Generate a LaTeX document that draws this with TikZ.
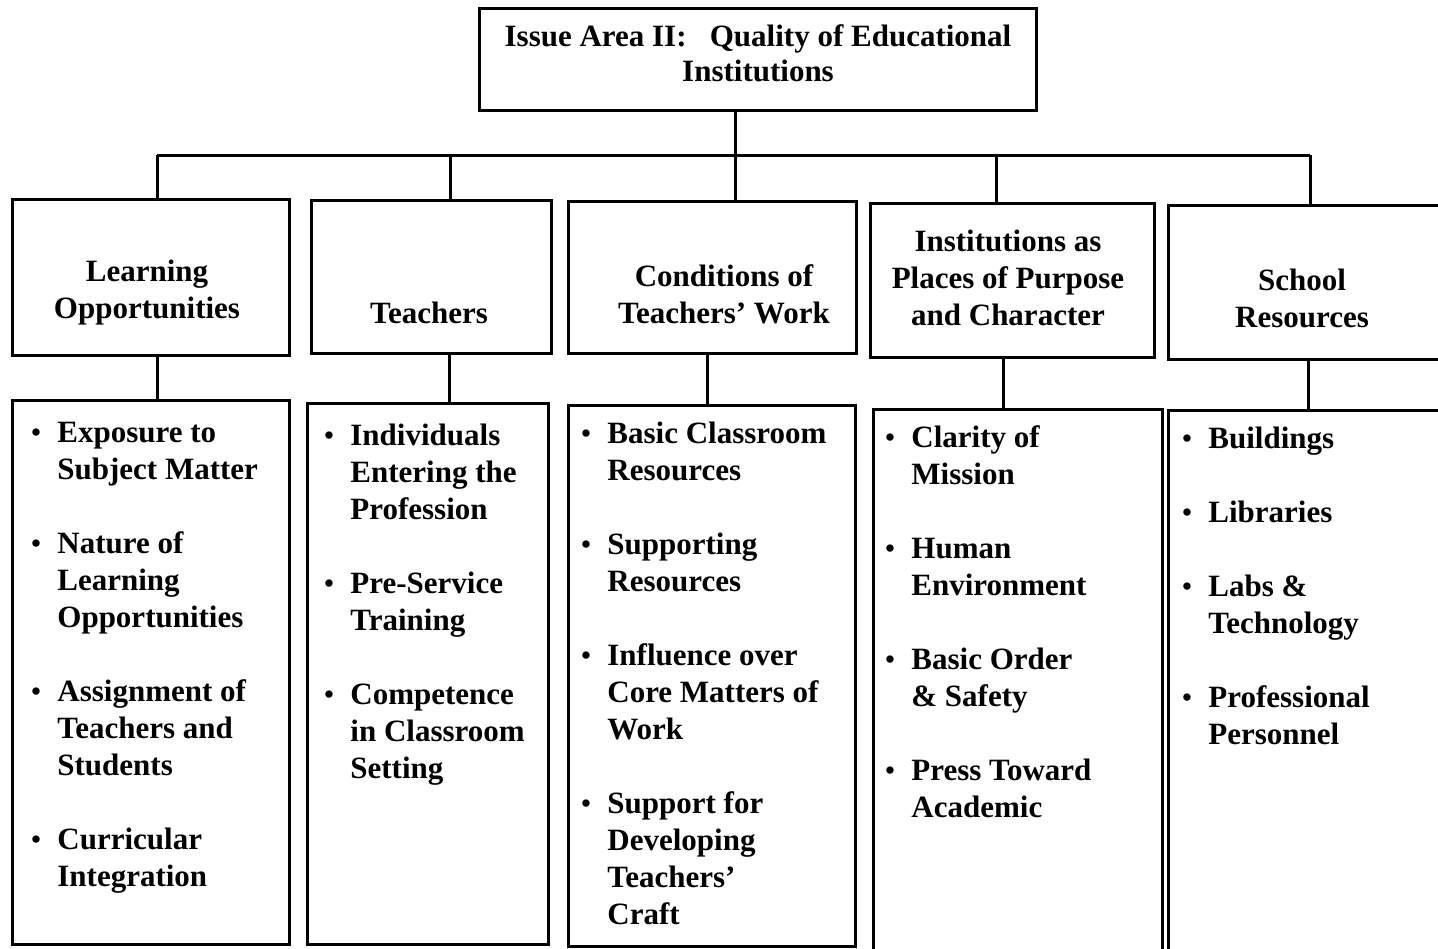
\documentclass[tikz,border=0pt]{standalone}
\usepackage{fontspec}
\setmainfont{Liberation Serif}
\newcommand\bul{\makebox[13pt][l]{\raisebox{0.3pt}{\fontsize{13.5}{13.5}\selectfont\textbullet}}}
\newcommand\ind{\hspace*{13pt}}
\newcommand\gap{\\[18.5pt]}
\begin{document}
\begin{tikzpicture}[x=0.5pt,y=-0.5pt,
  every node/.style={font=\fontsize{15.5}{18.5}\selectfont\bfseries},
  box/.style={draw, line width=1.5pt, inner sep=0pt, outer sep=0pt, anchor=north west},
  hlbl/.style={inner sep=0pt, anchor=base},
  llbl/.style={inner sep=0pt, anchor=base west},
  conn/.style={line width=1.5pt}]
\useasboundingbox (0,0) rectangle (1438,948);
\clip (0,0) rectangle (1438,948);
\fill[white] (0,0) rectangle (1438,948);
% boxes
\node[box, minimum width=278.5pt, minimum height=51pt] (top) at (479,8) {};
\node[box, minimum width=138.5pt, minimum height=78pt] (h1) at (12,199) {};
\node[box, minimum width=120pt, minimum height=76.5pt] (h2) at (311,200) {};
\node[box, minimum width=144pt, minimum height=76pt] (h3) at (568,201) {};
\node[box, minimum width=142pt, minimum height=77pt] (h4) at (870,203) {};
\node[box, minimum width=146pt, minimum height=77pt] (h5) at (1168,205) {};
\node[box, minimum width=138.5pt, minimum height=272pt] (l1) at (12,400) {};
\node[box, minimum width=120.5pt, minimum height=270.5pt] (l2) at (307,403) {};
\node[box, minimum width=143.5pt, minimum height=270.5pt] (l3) at (568,405) {};
\node[box, minimum width=144.5pt, minimum height=275.5pt] (l4) at (873,409) {};
\node[box, minimum width=146pt, minimum height=275pt] (l5) at (1168,410) {};
% texts
\node[hlbl] (topt) at (758,46) {\parbox[t]{270pt}{\centering Issue Area II:\enspace\ Quality of Educational\\[-1pt]Institutions}};
\node[hlbl] (h1t) at (147,281) {\parbox[t]{135pt}{\centering Learning\\Opportunities}};
\node[hlbl] (h2t) at (429,323) {\parbox[t]{115pt}{\centering Teachers}};
\node[hlbl] (h3t) at (724,286) {\parbox[t]{140pt}{\centering Conditions of\\Teachers' Work}};
\node[hlbl] (h4t) at (1008,251) {\parbox[t]{140pt}{\centering Institutions as\\Places of Purpose\\and Character}};
\node[hlbl] (h5t) at (1302,290) {\parbox[t]{140pt}{\centering School\\Resources}};
\node[llbl] (l1t) at (31,442) {\parbox[t]{130pt}{\bul Exposure to\\\ind Subject Matter\gap
  \bul Nature of\\\ind Learning\\\ind Opportunities\gap
  \bul Assignment of\\\ind Teachers and\\\ind Students\gap
  \bul Curricular\\\ind Integration}};
\node[llbl] (l2t) at (324,445) {\parbox[t]{115pt}{\bul Individuals\\\ind Entering the\\\ind Profession\gap
  \bul Pre-Service\\\ind Training\gap
  \bul Competence\\\ind in Classroom\\\ind Setting}};
\node[llbl] (l3t) at (581,443) {\parbox[t]{140pt}{\bul Basic Classroom\\\ind Resources\gap
  \bul Supporting\\\ind Resources\gap
  \bul Influence over\\\ind Core Matters of\\\ind Work\gap
  \bul Support for\\\ind Developing\\\ind Teachers'\\\ind Craft}};
\node[llbl] (l4t) at (885,447) {\parbox[t]{140pt}{\bul Clarity of\\\ind Mission\gap
  \bul Human\\\ind Environment\gap
  \bul Basic Order\\\ind \& Safety\gap
  \bul Press Toward\\\ind Academic}};
\node[llbl] (l5t) at (1182,448) {\parbox[t]{140pt}{\bul Buildings\gap
  \bul Libraries\gap
  \bul Labs \&\\\ind Technology\gap
  \bul Professional\\\ind Personnel}};
% connectors
\coordinate (bar) at (735,155);
\coordinate (d1) at (157,155);
\coordinate (d2) at (450,155);
\coordinate (d3) at (735,155);
\coordinate (d4) at (996,155);
\coordinate (d5) at (1310,155);
\draw[conn] (top.south -| bar) -- (bar);
\draw[conn] (d1) -- (d5);
\draw[conn] (d1) -- (d1 |- h1.north);
\draw[conn] (d2) -- (d2 |- h2.north);
\draw[conn] (d3) -- (d3 |- h3.north);
\draw[conn] (d4) -- (d4 |- h4.north);
\draw[conn] (d5) -- (d5 |- h5.north);
\coordinate (s1) at (157,355);
\coordinate (s2) at (449,353);
\coordinate (s3) at (707,353);
\coordinate (s4) at (1003,357);
\coordinate (s5) at (1308,359);
\draw[conn] (s1) -- (s1 |- l1.north);
\draw[conn] (s2) -- (s2 |- l2.north);
\draw[conn] (s3) -- (s3 |- l3.north);
\draw[conn] (s4) -- (s4 |- l4.north);
\draw[conn] (s5) -- (s5 |- l5.north);
\end{tikzpicture}
\end{document}
